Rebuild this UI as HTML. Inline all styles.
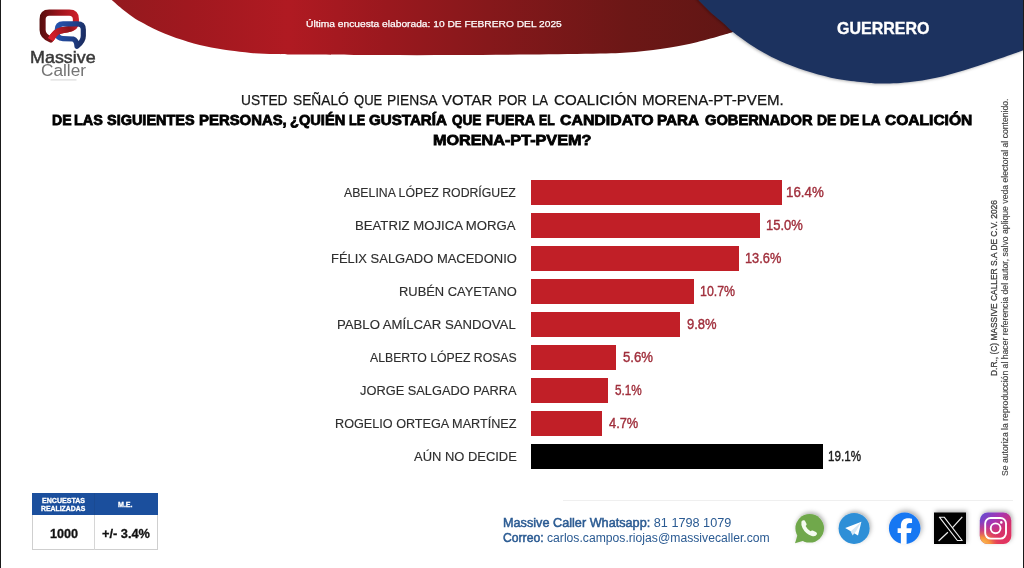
<!DOCTYPE html>
<html><head><meta charset="utf-8">
<style>
html,body{margin:0;padding:0;}
body{width:1024px;height:568px;position:relative;overflow:hidden;background:#fff;font-family:"Liberation Sans",sans-serif;}
.t{position:absolute;white-space:nowrap;line-height:1;transform-origin:0 0;}
.bar{position:absolute;left:530.5px;height:24.6px;background:#c11f27;}
</style></head>
<body>
<!-- header shapes -->
<svg style="position:absolute;left:0;top:0" width="1024" height="120" viewBox="0 0 1024 120">
  <defs>
    <linearGradient id="rg" x1="100" y1="0" x2="760" y2="0" gradientUnits="userSpaceOnUse">
      <stop offset="0" stop-color="#921a1e"/>
      <stop offset="0.133" stop-color="#a0181f"/>
      <stop offset="0.285" stop-color="#b01a22"/>
      <stop offset="0.436" stop-color="#9a181e"/>
      <stop offset="0.588" stop-color="#86181b"/>
      <stop offset="0.8" stop-color="#6c1716"/>
      <stop offset="1" stop-color="#5e1614"/>
    </linearGradient>
  </defs>
  <path d="M111.7,0.0 C113.7,1.7 119.5,6.9 123.4,10.0 C127.3,13.1 131.3,16.2 135.2,18.8 C139.1,21.3 143.0,23.1 146.9,25.2 C150.8,27.3 154.7,29.4 158.6,31.1 C162.5,32.9 166.4,34.2 170.3,35.7 C174.2,37.2 178.1,38.5 182.0,39.8 C185.9,41.1 189.9,42.3 193.8,43.4 C197.7,44.5 201.6,45.4 205.5,46.3 C209.4,47.2 213.1,47.9 217.2,48.6 C221.3,49.3 224.4,49.9 230.0,50.6 C235.6,51.3 243.3,52.3 250.8,52.9 C258.3,53.5 266.6,53.7 275.0,54.0 C283.4,54.3 284.0,54.4 301.5,54.6 C319.0,54.8 354.6,55.0 380.0,55.1 C405.4,55.2 428.8,55.2 453.8,55.1 C478.8,55.0 505.6,54.9 530.0,54.6 C554.4,54.4 582.5,54.1 600.0,53.6 C617.5,53.1 623.4,52.9 635.1,51.9 C646.8,50.9 660.0,49.1 670.3,47.5 C680.6,45.9 687.9,44.3 696.7,42.2 C705.5,40.1 715.8,37.3 723.0,35.1 C730.2,32.9 733.0,32.2 740.0,29.0 C747.0,25.8 757.5,20.8 765.0,16.0 C772.5,11.2 781.7,2.7 785.0,0.0 Z" fill="url(#rg)"/>
  <filter id="bsh" x="-20%" y="-20%" width="140%" height="140%"><feDropShadow dx="-1" dy="0.5" stdDeviation="1.5" flood-color="#000" flood-opacity="0.35"/></filter>
  <path d="M696.5,-2.5 C696.8,-2.1 696.9,-1.6 698.4,0.0 C699.9,1.6 703.1,4.9 705.5,7.3 C707.9,9.7 709.6,11.5 712.5,14.1 C715.4,16.7 719.5,19.7 723.0,22.8 C726.5,25.9 729.2,29.0 733.6,32.5 C738.0,36.0 743.8,40.2 749.4,43.9 C755.0,47.6 760.9,51.2 767.0,54.5 C773.1,57.8 778.4,60.5 785.8,63.5 C793.2,66.5 803.0,69.9 811.6,72.5 C820.2,75.1 828.7,77.4 837.3,79.0 C845.9,80.6 856.0,81.5 863.1,82.3 C870.2,83.1 872.5,83.6 880.0,83.6 C887.5,83.6 898.7,83.2 908.1,82.2 C917.5,81.2 926.9,79.7 936.3,77.7 C945.7,75.7 955.0,73.0 964.4,70.2 C973.8,67.4 983.1,64.2 992.5,61.1 C1001.9,58.0 1014.4,53.6 1020.6,51.3 C1026.8,49.0 1028.4,48.1 1030.0,47.5 L1030,-5 L696,-5 Z" fill="#1f335f" filter="url(#bsh)"/>
</svg>
<!-- borders -->
<div style="position:absolute;left:0;top:0;width:1.2px;height:568px;background:#1a1a1a"></div>
<div style="position:absolute;left:1022.8px;top:0;width:1.2px;height:568px;background:#1a1a1a"></div>

<!-- logo -->
<svg style="position:absolute;left:0;top:0" width="110" height="90" viewBox="0 0 110 90">
  <defs>
    <linearGradient id="lr" x1="40" y1="20" x2="79" y2="20" gradientUnits="userSpaceOnUse">
      <stop offset="0" stop-color="#560e0e"/><stop offset="0.5" stop-color="#9c141c"/><stop offset="1" stop-color="#d0202c"/>
    </linearGradient>
    <linearGradient id="lr2" x1="76" y1="25" x2="50" y2="40" gradientUnits="userSpaceOnUse">
      <stop offset="0" stop-color="#c41d29"/><stop offset="0.25" stop-color="#8e151a"/><stop offset="0.6" stop-color="#b81a24"/><stop offset="1" stop-color="#e0202c"/>
    </linearGradient>
    <linearGradient id="lb" x1="56" y1="30" x2="86" y2="36" gradientUnits="userSpaceOnUse">
      <stop offset="0" stop-color="#2552ac"/><stop offset="0.6" stop-color="#1f3f88"/><stop offset="1" stop-color="#1a2a5c"/>
    </linearGradient>
  </defs>
  <path d="M50.7,39.5 C46,37.5 42.6,35 42.6,30 L42.6,19.2 Q42.6,12.6 49.2,12.6 L69.3,12.6 Q75.9,12.6 75.9,19.2 L75.9,22 C75.9,27 72.5,28.6 68,29.2 L60.5,30.5 C56.5,31.3 53.5,35 50.7,39.5 Z" fill="none" stroke="url(#lr)" stroke-width="6.1" stroke-linejoin="round"/>
  <path d="M75.9,22 C74.3,27.9 71.5,28.8 68,29.2 L60.5,30.5 C56.5,31.3 53.5,35 50.7,39.5" fill="none" stroke="url(#lr2)" stroke-width="6.1" stroke-linejoin="round"/>
  <path d="M63,23.8 L77.5,23.8 Q83.3,23.8 83.3,29.5 L83.3,36 C83.3,40.5 80.5,43.5 77,46.3 C76.8,43 76,40 73,39 L63,38.6 Q57.3,38.4 57.2,33.5 L57.2,30 Q57.3,23.8 63,23.8 Z" fill="none" stroke="url(#lb)" stroke-width="5.2" stroke-linejoin="round"/>
  <path d="M63.5,30 L60.5,30.5 C56.5,31.3 53.5,35 50.7,39.5" fill="none" stroke="url(#lr2)" stroke-width="6.1" stroke-linejoin="round"/>
  <rect x="50.5" y="79.3" width="26" height="1.2" fill="#dcdcdc"/>
</svg>
<!-- bars -->
<div class="bar" style="top:180px;width:251.1px"></div>
<div class="bar" style="top:213px;width:229.1px"></div>
<div class="bar" style="top:246px;width:208px"></div>
<div class="bar" style="top:279px;width:163.4px"></div>
<div class="bar" style="top:312px;width:149.6px"></div>
<div class="bar" style="top:345px;width:85.4px"></div>
<div class="bar" style="top:378px;width:77.9px"></div>
<div class="bar" style="top:411px;width:71.7px"></div>
<div class="bar" style="top:444px;width:292.3px;background:#000"></div>

<!-- table -->
<div style="position:absolute;left:31.9px;top:493px;width:125.7px;height:56.5px;box-sizing:border-box;border:1px solid #cfcfcf;background:#fff"></div>
<div style="position:absolute;left:31.9px;top:493px;width:125.7px;height:22.2px;background:#1b4f9d"></div>
<div style="position:absolute;left:94.4px;top:515px;width:1px;height:34.5px;background:#d6d6d6"></div>
<div style="position:absolute;left:94.4px;top:493px;width:1px;height:22.2px;background:#1a4a92"></div>

<!-- faint line -->
<div style="position:absolute;left:563px;top:499.5px;width:450px;height:1px;background:#efefef"></div>

<!-- vertical text -->
<div style="position:absolute;left:990.2px;top:376.1px;transform:rotate(-90deg) scaleX(0.932);filter:grayscale(1);transform-origin:0 0;white-space:nowrap;font-size:9px;line-height:1;color:#3c3c3c;-webkit-text-stroke:0.3px #3c3c3c;">D.R., (C) MASSIVE CALLER S.A DE C.V. 2026</div>
<div style="position:absolute;left:1001.1px;top:476.2px;transform:rotate(-90deg) scaleX(0.96);filter:grayscale(1);transform-origin:0 0;white-space:nowrap;font-size:9px;line-height:1;color:#444;-webkit-text-stroke:0.15px #444;">Se autoriza la reproducción al hacer referencia del autor, salvo aplique veda electoral al contenido.</div>

<!-- social icons -->
<svg style="position:absolute;left:780px;top:500px;overflow:visible" width="244" height="60" viewBox="780 500 244 60">
  <defs>
    <filter id="sh" x="-30%" y="-30%" width="160%" height="160%">
      <feDropShadow dx="1.2" dy="-1.8" stdDeviation="2.2" flood-color="#000" flood-opacity="0.3"/>
    </filter>
    <linearGradient id="igb" x1="980" y1="512" x2="1011" y2="544" gradientUnits="userSpaceOnUse">
      <stop offset="0" stop-color="#5a4fd4"/>
      <stop offset="0.35" stop-color="#a534b4"/>
      <stop offset="0.65" stop-color="#d42f6c"/>
      <stop offset="1" stop-color="#e8365a"/>
    </linearGradient>
    <radialGradient id="igy" cx="982" cy="546" r="24" gradientUnits="userSpaceOnUse">
      <stop offset="0" stop-color="#fdd05a" stop-opacity="1"/>
      <stop offset="0.35" stop-color="#f99a3a" stop-opacity="0.95"/>
      <stop offset="0.65" stop-color="#f0504a" stop-opacity="0.5"/>
      <stop offset="1" stop-color="#e8365a" stop-opacity="0"/>
    </radialGradient>
  </defs>
  <!-- whatsapp -->
  <g filter="url(#sh)">
    <circle cx="809.7" cy="528.3" r="14.3" fill="#6fa84c"/>
    <path d="M797.5,535 L795,543.2 L803.5,540.8 Z" fill="#6fa84c"/>
  </g>
  <path d="M801.4,521.8 Q801.8,519.9 804,520.2 Q804.8,520.4 805.2,521.3 L806.6,524 Q806.9,525.1 805.6,526 Q807.3,529.3 810.5,531.3 Q811.5,530.1 812.7,530.5 L815.9,532.1 Q817.4,532.9 816.9,534.3 Q815.6,537 811.8,535.9 Q805.5,534 802.5,528 Q800.9,524.6 801.4,521.8 Z" fill="#f4fbef"/>
  <!-- telegram -->
  <circle cx="854.1" cy="528.4" r="15.5" fill="#2f8fd7" filter="url(#sh)"/>
  <path d="M845.2,527.9 L861.4,521.7 L858,535.4 Z" fill="#fff"/>
  <path d="M850.6,531.6 L861.4,521.7 L856.2,531 L852.6,535.5 Z" fill="#d3e7f6"/>
  <!-- facebook -->
  <g filter="url(#sh)" transform="translate(888.9,512.4) scale(1.317)">
    <circle cx="12" cy="12" r="11.6" fill="#fff"/>
    <path d="M9.101 23.691v-7.98H6.627v-3.667h2.474v-1.58c0-4.085 1.848-5.978 5.858-5.978.401 0 .955.042 1.468.103a8.68 8.68 0 0 1 1.141.195v3.325a8.623 8.623 0 0 0-.653-.036 26.805 26.805 0 0 0-.733-.009c-.707 0-1.259.096-1.675.309a1.686 1.686 0 0 0-.679.622c-.258.42-.374.995-.374 1.752v1.297h3.919l-.386 2.103-.287 1.564h-3.246v8.245C19.396 23.238 24 18.179 24 12.044c0-6.627-5.373-12-12-12s-12 5.373-12 12c0 5.628 3.874 10.35 9.101 11.647Z" fill="#1877f2"/>
  </g>
  <!-- X -->
  <rect x="934" y="512.5" width="32" height="31.5" fill="#000" filter="url(#sh)"/>
  <path d="M962.3,516.9 L952.3,527.8 M947.9,532.2 L938.6,541" stroke="#eee" stroke-width="1.25"/>
  <path d="M939.4,517.2 L944.2,517.2 L962.2,540.5 L957.4,540.5 Z" fill="#000" stroke="#eee" stroke-width="1.15" stroke-linejoin="round"/>
  <!-- instagram -->
  <g filter="url(#sh)"><rect x="979.8" y="512.5" width="31.5" height="31.5" rx="8" fill="url(#igb)"/><rect x="979.8" y="512.5" width="31.5" height="31.5" rx="8" fill="url(#igy)"/></g>
  <rect x="985.2" y="518" width="20.8" height="20.6" rx="5.5" fill="none" stroke="#fff" stroke-width="1.9"/>
  <circle cx="995.6" cy="528.3" r="4.9" fill="none" stroke="#fff" stroke-width="1.9"/>
  <circle cx="1001.3" cy="522.4" r="1.3" fill="#fff"/>
</svg>

<div class='t' style='left:306.3px;top:18.9px;font-size:9.8px;font-weight:400;color:#fff;transform:scaleX(1.0429);-webkit-text-stroke:0.25px #fff;'>Última encuesta elaborada: 10 DE FEBRERO DEL 2025</div>
<div class='t' style='left:837.0px;top:19.6px;font-size:16.5px;font-weight:700;color:#fff;transform:scaleX(0.9696);-webkit-text-stroke:0.35px #fff;'>GUERRERO</div>
<div class='t' style='left:240.6px;top:93.2px;font-size:14px;font-weight:400;color:#151515;transform:scaleX(0.9798);-webkit-text-stroke:0.25px #151515;'>USTED</div>
<div class='t' style='left:292.8px;top:93.2px;font-size:14px;font-weight:400;color:#151515;transform:scaleX(0.9805);-webkit-text-stroke:0.25px #151515;'>SEÑALÓ</div>
<div class='t' style='left:353.9px;top:93.2px;font-size:14px;font-weight:400;color:#151515;transform:scaleX(0.9300);-webkit-text-stroke:0.25px #151515;'>QUE</div>
<div class='t' style='left:386.5px;top:93.2px;font-size:14px;font-weight:400;color:#151515;transform:scaleX(0.9840);-webkit-text-stroke:0.25px #151515;'>PIENSA</div>
<div class='t' style='left:442.0px;top:93.2px;font-size:14px;font-weight:400;color:#151515;transform:scaleX(1.0642);-webkit-text-stroke:0.25px #151515;'>VOTAR</div>
<div class='t' style='left:497.5px;top:93.2px;font-size:14px;font-weight:400;color:#151515;transform:scaleX(0.9546);-webkit-text-stroke:0.25px #151515;'>POR</div>
<div class='t' style='left:531.9px;top:93.2px;font-size:14px;font-weight:400;color:#151515;transform:scaleX(0.9413);-webkit-text-stroke:0.25px #151515;'>LA</div>
<div class='t' style='left:553.9px;top:93.2px;font-size:14px;font-weight:400;color:#151515;transform:scaleX(1.0790);-webkit-text-stroke:0.25px #151515;'>COALICIÓN</div>
<div class='t' style='left:641.7px;top:93.2px;font-size:14px;font-weight:400;color:#151515;transform:scaleX(1.0782);-webkit-text-stroke:0.25px #151515;'>MORENA-PT-PVEM.</div>
<div class='t' style='left:51.9px;top:111.9px;font-size:15px;font-weight:700;color:#000;transform:scaleX(0.9379);-webkit-text-stroke:0.8px #000;'>DE</div>
<div class='t' style='left:74.3px;top:111.9px;font-size:15px;font-weight:700;color:#000;transform:scaleX(0.9588);-webkit-text-stroke:0.8px #000;'>LAS</div>
<div class='t' style='left:107.0px;top:111.9px;font-size:15px;font-weight:700;color:#000;transform:scaleX(0.9643);-webkit-text-stroke:0.8px #000;'>SIGUIENTES</div>
<div class='t' style='left:198.8px;top:111.9px;font-size:15px;font-weight:700;color:#000;transform:scaleX(0.9933);-webkit-text-stroke:0.8px #000;'>PERSONAS,</div>
<div class='t' style='left:290.3px;top:111.9px;font-size:15px;font-weight:700;color:#000;transform:scaleX(0.9743);-webkit-text-stroke:0.8px #000;'>¿QUIÉN</div>
<div class='t' style='left:348.9px;top:111.9px;font-size:15px;font-weight:700;color:#000;transform:scaleX(0.8424);-webkit-text-stroke:0.8px #000;'>LE</div>
<div class='t' style='left:369.4px;top:111.9px;font-size:15px;font-weight:700;color:#000;transform:scaleX(1.0092);-webkit-text-stroke:0.8px #000;'>GUSTARÍA</div>
<div class='t' style='left:452.4px;top:111.9px;font-size:15px;font-weight:700;color:#000;transform:scaleX(0.9046);-webkit-text-stroke:0.8px #000;'>QUE</div>
<div class='t' style='left:486.0px;top:111.9px;font-size:15px;font-weight:700;color:#000;transform:scaleX(0.9482);-webkit-text-stroke:0.8px #000;'>FUERA</div>
<div class='t' style='left:538.8px;top:111.9px;font-size:15px;font-weight:700;color:#000;transform:scaleX(0.8164);-webkit-text-stroke:0.8px #000;'>EL</div>
<div class='t' style='left:559.5px;top:111.9px;font-size:15px;font-weight:700;color:#000;transform:scaleX(1.0569);-webkit-text-stroke:0.8px #000;'>CANDIDATO</div>
<div class='t' style='left:656.6px;top:111.9px;font-size:15px;font-weight:700;color:#000;transform:scaleX(1.0183);-webkit-text-stroke:0.8px #000;'>PARA</div>
<div class='t' style='left:704.6px;top:111.9px;font-size:15px;font-weight:700;color:#000;transform:scaleX(0.9785);-webkit-text-stroke:0.8px #000;'>GOBERNADOR</div>
<div class='t' style='left:816.5px;top:111.9px;font-size:15px;font-weight:700;color:#000;transform:scaleX(0.9278);-webkit-text-stroke:0.8px #000;'>DE</div>
<div class='t' style='left:840.0px;top:111.9px;font-size:15px;font-weight:700;color:#000;transform:scaleX(0.9126);-webkit-text-stroke:0.8px #000;'>DE</div>
<div class='t' style='left:861.7px;top:111.9px;font-size:15px;font-weight:700;color:#000;transform:scaleX(0.9289);-webkit-text-stroke:0.8px #000;'>LA</div>
<div class='t' style='left:884.8px;top:111.9px;font-size:15px;font-weight:700;color:#000;transform:scaleX(1.0368);-webkit-text-stroke:0.8px #000;'>COALICIÓN</div>
<div class='t' style='left:432.6px;top:131.5px;font-size:15px;font-weight:700;color:#000;transform:scaleX(1.0797);-webkit-text-stroke:0.8px #000;'>MORENA-PT-PVEM?</div>
<div class='t' style='left:344.0px;top:186.2px;font-size:13.2px;font-weight:400;color:#2e2e2e;transform:scaleX(0.9307);-webkit-text-stroke:0.15px #2e2e2e;'>ABELINA LÓPEZ RODRÍGUEZ</div>
<div class='t' style='left:355.0px;top:219.0px;font-size:13.2px;font-weight:400;color:#2e2e2e;transform:scaleX(0.9976);-webkit-text-stroke:0.15px #2e2e2e;'>BEATRIZ MOJICA MORGA</div>
<div class='t' style='left:330.7px;top:251.7px;font-size:13.2px;font-weight:400;color:#2e2e2e;transform:scaleX(0.9829);-webkit-text-stroke:0.15px #2e2e2e;'>FÉLIX SALGADO MACEDONIO</div>
<div class='t' style='left:398.7px;top:284.9px;font-size:13.2px;font-weight:400;color:#2e2e2e;transform:scaleX(0.9786);-webkit-text-stroke:0.15px #2e2e2e;'>RUBÉN CAYETANO</div>
<div class='t' style='left:337.2px;top:317.7px;font-size:13.2px;font-weight:400;color:#2e2e2e;transform:scaleX(0.9980);-webkit-text-stroke:0.15px #2e2e2e;'>PABLO AMÍLCAR SANDOVAL</div>
<div class='t' style='left:369.9px;top:351.3px;font-size:13.2px;font-weight:400;color:#2e2e2e;transform:scaleX(0.9296);-webkit-text-stroke:0.15px #2e2e2e;'>ALBERTO LÓPEZ ROSAS</div>
<div class='t' style='left:360.0px;top:383.8px;font-size:13.2px;font-weight:400;color:#2e2e2e;transform:scaleX(0.9728);-webkit-text-stroke:0.15px #2e2e2e;'>JORGE SALGADO PARRA</div>
<div class='t' style='left:334.6px;top:417.0px;font-size:13.2px;font-weight:400;color:#2e2e2e;transform:scaleX(0.9589);-webkit-text-stroke:0.15px #2e2e2e;'>ROGELIO ORTEGA MARTÍNEZ</div>
<div class='t' style='left:413.8px;top:449.7px;font-size:13.2px;font-weight:400;color:#2e2e2e;transform:scaleX(0.9811);-webkit-text-stroke:0.15px #2e2e2e;'>AÚN NO DECIDE</div>
<div class='t' style='left:786.3px;top:184.5px;font-size:14.5px;font-weight:400;color:#a02f3c;transform:scaleX(0.9174);-webkit-text-stroke:0.4px #a02f3c;'>16.4%</div>
<div class='t' style='left:765.6px;top:217.5px;font-size:14.5px;font-weight:400;color:#a02f3c;transform:scaleX(0.8951);-webkit-text-stroke:0.4px #a02f3c;'>15.0%</div>
<div class='t' style='left:744.6px;top:250.5px;font-size:14.5px;font-weight:400;color:#a02f3c;transform:scaleX(0.8826);-webkit-text-stroke:0.4px #a02f3c;'>13.6%</div>
<div class='t' style='left:700.0px;top:283.5px;font-size:14.5px;font-weight:400;color:#a02f3c;transform:scaleX(0.8528);-webkit-text-stroke:0.4px #a02f3c;'>10.7%</div>
<div class='t' style='left:687.4px;top:316.5px;font-size:14.5px;font-weight:400;color:#a02f3c;transform:scaleX(0.8957);-webkit-text-stroke:0.4px #a02f3c;'>9.8%</div>
<div class='t' style='left:622.9px;top:349.5px;font-size:14.5px;font-weight:400;color:#a02f3c;transform:scaleX(0.9078);-webkit-text-stroke:0.4px #a02f3c;'>5.6%</div>
<div class='t' style='left:614.9px;top:382.5px;font-size:14.5px;font-weight:400;color:#a02f3c;transform:scaleX(0.8113);-webkit-text-stroke:0.4px #a02f3c;'>5.1%</div>
<div class='t' style='left:609.3px;top:415.5px;font-size:14.5px;font-weight:400;color:#a02f3c;transform:scaleX(0.8867);-webkit-text-stroke:0.4px #a02f3c;'>4.7%</div>
<div class='t' style='left:827.9px;top:448.5px;font-size:14.5px;font-weight:400;color:#1a1a1a;transform:scaleX(0.8031);-webkit-text-stroke:0.4px #1a1a1a;'>19.1%</div>
<div class='t' style='left:41.6px;top:496.5px;font-size:7px;font-weight:700;color:#fff;transform:scaleX(1.0097);-webkit-text-stroke:0.3px #fff;'>ENCUESTAS</div>
<div class='t' style='left:41.0px;top:504.9px;font-size:7px;font-weight:700;color:#fff;transform:scaleX(0.9815);-webkit-text-stroke:0.3px #fff;'>REALIZADAS</div>
<div class='t' style='left:118.2px;top:500.8px;font-size:7px;font-weight:700;color:#fff;transform:scaleX(1.0107);-webkit-text-stroke:0.3px #fff;'>M.E.</div>
<div class='t' style='left:49.8px;top:526.8px;font-size:13px;font-weight:700;color:#111;transform:scaleX(0.9725);-webkit-text-stroke:0.3px #111;'>1000</div>
<div class='t' style='left:102.0px;top:526.8px;font-size:13px;font-weight:700;color:#111;transform:scaleX(0.9834);-webkit-text-stroke:0.3px #111;'>+/- 3.4%</div>
<div class='t' style='left:503.3px;top:516.7px;font-size:12.5px;font-weight:400;color:#2a5a92;transform:scaleX(1.0140);'><span style="-webkit-text-stroke:0.5px #2a5a92">Massive Caller Whatsapp:</span> 81 1798 1079</div>
<div class='t' style='left:503.3px;top:531.7px;font-size:12.5px;font-weight:400;color:#2a5a92;transform:scaleX(0.9737);'><span style="-webkit-text-stroke:0.5px #2a5a92">Correo:</span> carlos.campos.riojas@massivecaller.com</div>
<div class='t' style='left:29.9px;top:48.8px;font-size:16.5px;font-weight:400;color:#383838;transform:scaleX(1.0853);-webkit-text-stroke:0.45px #383838;'>Massive</div>
<div class='t' style='left:40.6px;top:63.0px;font-size:16px;font-weight:400;color:#747474;transform:scaleX(1.0763);'>Caller</div>
</body></html>
